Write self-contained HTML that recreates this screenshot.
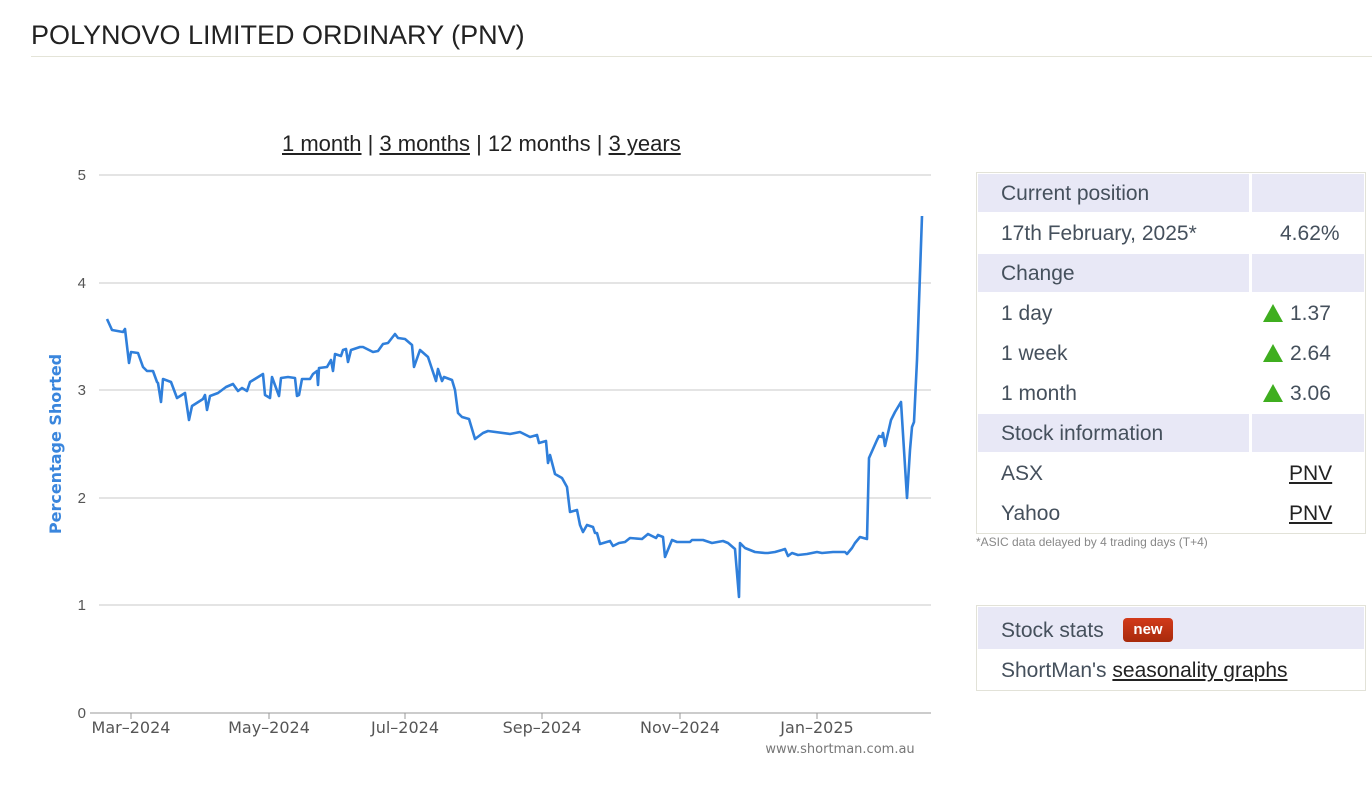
<!DOCTYPE html>
<html><head><meta charset="utf-8"><style>
body{margin:0;width:1372px;height:796px;background:#fff;font-family:"Liberation Sans",Arial,sans-serif;position:relative;overflow:hidden}
.a{position:absolute}
.t{color:#45505c;font-size:21px}
.h{background:#e8e8f6}
u{color:#222}
</style></head><body>
<div class="a" style="left:31px;top:20px;font-size:27px;color:#222">POLYNOVO LIMITED ORDINARY (PNV)</div>
<div class="a" style="left:31px;top:56px;width:1341px;height:1px;background:#e4e4d8"></div>
<div class="a" style="left:282px;top:131px;font-size:22px;color:#222"><u>1 month</u> | <u>3 months</u> | 12 months | <u>3 years</u></div>

<svg class="a" style="left:0;top:0" width="960" height="796">
<g stroke="#c8c8c8" stroke-width="1">
<line x1="99" y1="175" x2="931" y2="175"/><line x1="99" y1="283" x2="931" y2="283"/>
<line x1="99" y1="390" x2="931" y2="390"/><line x1="99" y1="498" x2="931" y2="498"/>
<line x1="99" y1="605" x2="931" y2="605"/>
</g>
<line x1="90" y1="713" x2="931" y2="713" stroke="#999"/>
<g stroke="#999"><line x1="131" y1="713" x2="131" y2="719"/><line x1="269" y1="713" x2="269" y2="719"/><line x1="405" y1="713" x2="405" y2="719"/><line x1="542" y1="713" x2="542" y2="719"/><line x1="680" y1="713" x2="680" y2="719"/><line x1="817" y1="713" x2="817" y2="719"/></g>
<g font-family="Liberation Sans,sans-serif" font-size="15" fill="#555" text-anchor="end">
<text x="86" y="180">5</text><text x="86" y="288">4</text><text x="86" y="395">3</text><text x="86" y="503">2</text><text x="86" y="610">1</text><text x="86" y="718">0</text>
</g>
<g font-family="DejaVu Sans,sans-serif" font-size="16" fill="#555" text-anchor="middle">
<text x="131" y="733">Mar–2024</text><text x="269" y="733">May–2024</text><text x="405" y="733">Jul–2024</text><text x="542" y="733">Sep–2024</text><text x="680" y="733">Nov–2024</text><text x="817" y="733">Jan–2025</text>
<text x="840" y="753" font-size="13" fill="#777">www.shortman.com.au</text>
</g>
<text transform="translate(61,444) rotate(-90)" text-anchor="middle" font-family="DejaVu Sans,sans-serif" font-weight="bold" font-size="16" fill="#3a86dd">Percentage Shorted</text>
<polyline fill="none" stroke="#2f7fdb" stroke-width="2.6" stroke-linejoin="round" points="107,319 112,330 123,332 125,329 129,363 131,352 138,353 143,367 147,371 153,371 157,382 158,383 161,402 163,379 171,382 177,398 185,393 189,420 192,406 203,399 205,395 207,410 210,396 218,393 226,387 233,384 238,391 242,388 247,391 250,382 263,374 265,395 270,398 272,377 279,396 281,378 288,377 295,378 297,396 299,395 302,379 310,379 313,374 317,371 318,385 319,368 327,367 331,360 333,371 335,354 341,356 343,350 346,349 348,362 351,350 360,347 363,347 373,352 378,351 383,344 388,343 395,334 398,338 405,339 412,345 414,367 420,350 428,357 436,381 438,369 442,381 444,377 452,380 455,390 458,413 462,417 469,419 475,439 483,433 488,431 510,434 520,432 530,437 537,435 539,443 546,441 548,463 550,455 555,474 562,478 567,487 570,512 577,510 580,525 583,532 587,525 593,527 595,533 597,533 600,544 610,541 613,546 619,543 625,542 630,538 642,539 648,534 656,538 658,535 663,537 665,557 672,540 677,542 690,542 692,540 703,540 712,543 723,541 728,543 735,549 739,597 740,543 745,548 755,552 765,553 768,553 775,552 782,550 785,549 788,556 792,553 798,555 807,554 817,552 822,553 833,552 837,552 845,552 847,554 852,548 855,543 860,537 867,539 869,458 877,440 879,436 882,437 883,433 885,446 891,420 895,412 901,402 907,498 910,450 912,427 914,422 917,360 922,216"/>
</svg>

<div class="a" style="left:976px;top:172px;width:388px;height:360px;border:1px solid #e2e2d8"></div>
<div class="a h" style="left:978px;top:174px;width:271px;height:38px;"></div><div class="a h" style="left:1252px;top:174px;width:112px;height:38px"></div>
<div class="a h" style="left:978px;top:254px;width:271px;height:38px;"></div><div class="a h" style="left:1252px;top:254px;width:112px;height:38px"></div>
<div class="a h" style="left:978px;top:414px;width:271px;height:38px;"></div><div class="a h" style="left:1252px;top:414px;width:112px;height:38px"></div>
<div class="a t" style="left:1001px;top:182px">Current position</div>
<div class="a t" style="left:1001px;top:222px">17th February, 2025*</div>
<div class="a t" style="left:1280px;top:222px">4.62%</div>
<div class="a t" style="left:1001px;top:262px">Change</div>
<div class="a t" style="left:1001px;top:302px">1 day</div>
<div class="a t" style="left:1001px;top:342px">1 week</div>
<div class="a t" style="left:1001px;top:382px">1 month</div>
<div class="a t" style="left:1001px;top:422px">Stock information</div>
<div class="a t" style="left:1001px;top:462px">ASX</div>
<div class="a t" style="left:1001px;top:502px">Yahoo</div>
<div class="a t" style="left:1289px;top:462px"><u>PNV</u></div>
<div class="a t" style="left:1289px;top:502px"><u>PNV</u></div>
<svg class="a" style="left:1261px;top:302px" width="24" height="100">
<polygon points="12,2 22,20 2,20" fill="#3fae1f"/><polygon points="12,42 22,60 2,60" fill="#3fae1f"/><polygon points="12,82 22,100 2,100" fill="#3fae1f"/></svg>
<div class="a t" style="left:1290px;top:302px">1.37</div>
<div class="a t" style="left:1290px;top:342px">2.64</div>
<div class="a t" style="left:1290px;top:382px">3.06</div>
<div class="a" style="left:976px;top:535px;font-size:12px;color:#888">*ASIC data delayed by 4 trading days (T+4)</div>

<div class="a" style="left:976px;top:605px;width:388px;height:84px;border:1px solid #e2e2d8"></div>
<div class="a h" style="left:978px;top:607px;width:386px;height:42px"></div>
<div class="a t" style="left:1001px;top:619px">Stock stats</div>
<div class="a" style="left:1123px;top:618px;width:50px;height:24px;border-radius:4px;background:linear-gradient(#d23a1a,#a82a0c);color:#fff;font-size:15px;font-weight:bold;text-align:center;line-height:23px">new</div>
<div class="a t" style="left:1001px;top:659px">ShortMan's <u>seasonality graphs</u></div>
</body></html>
